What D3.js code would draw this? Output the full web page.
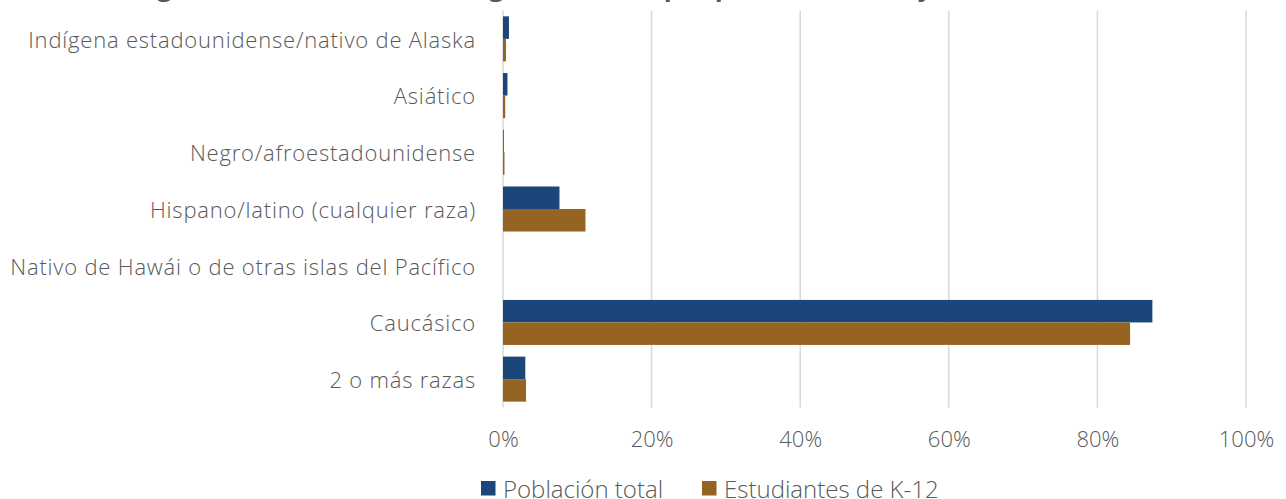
<!DOCTYPE html>
<html>
<head>
<meta charset="utf-8">
<script src="https://cdn.jsdelivr.net/npm/d3@7.9.0/dist/d3.min.js"></script>
<style>
  html, body { margin: 0; padding: 0; background: #fff; }
  svg { display: block; font-family: 'Open Sans', sans-serif; }
</style>
</head>
<body>
<div id="chart"></div>
<script>
// Data
const categories = [
  'Indígena estadounidense/nativo de Alaska',
  'Asiático',
  'Negro/afroestadounidense',
  'Hispano/latino (cualquier raza)',
  'Nativo de Hawái o de otras islas del Pacífico',
  'Caucásico',
  '2 o más razas'
];
const seriesNames = ['Población total', 'Estudiantes de K-12'];
const poblacionTotal = [0.008, 0.006, 0.001, 0.076, 0.0, 0.874, 0.030];
const estudiantesK12 = [0.004, 0.003, 0.002, 0.111, 0.0, 0.844, 0.031];
const xTicks = [0, 0.2, 0.4, 0.6, 0.8, 1.0];
const colors = ['#1b4679', '#956422'];
const title = 'Origen racial, distribución según el censo, por población total y estudiantes de K-12';

const width = 1286, height = 499;
const margin = { top: 10.5, right: 40, bottom: 91.5, left: 503 };
const textColor = '#595959';

const svg = d3.select('#chart').append('svg')
  .attr('width', width)
  .attr('height', height);

const x = d3.scaleLinear()
  .domain([0, 1])
  .range([margin.left, 1246]);

const y = d3.scaleBand()
  .domain(categories)
  .range([margin.top, height - margin.bottom]);

const ySub = d3.scaleBand()
  .domain(seriesNames)
  .range([0, y.bandwidth()])
  .paddingOuter(0.26);

// title (mostly cut off at the top of the picture)
svg.append('text')
  .attr('x', 655)
  .attr('y', -3.8)
  .attr('text-anchor', 'middle')
  .attr('font-size', '26px')
  .attr('font-weight', 700)
  .attr('fill', textColor)
  .text(title);

// gridlines
svg.append('g')
  .selectAll('line')
  .data(xTicks)
  .join('line')
  .attr('x1', d => x(d))
  .attr('x2', d => x(d))
  .attr('y1', margin.top)
  .attr('y2', height - margin.bottom)
  .attr('stroke', '#d9d9d9')
  .attr('stroke-width', 1.5);

// bars
const rows = categories.map((c, i) => ({ cat: c, vals: [poblacionTotal[i], estudiantesK12[i]] }));
svg.append('g')
  .selectAll('g')
  .data(rows)
  .join('g')
  .attr('transform', d => `translate(0,${y(d.cat)})`)
  .selectAll('rect')
  .data(d => d.vals.map((v, j) => ({ name: seriesNames[j], v, j })))
  .join('rect')
  .attr('x', x(0))
  .attr('y', d => ySub(d.name))
  .attr('width', d => x(d.v) - x(0))
  .attr('height', ySub.bandwidth())
  .attr('fill', d => colors[d.j]);

// category labels
const yAxis = svg.append('g')
  .attr('transform', `translate(${margin.left},0)`)
  .call(d3.axisLeft(y).tickSize(0).tickPadding(27));
yAxis.select('.domain').remove();
yAxis.selectAll('text')
  .attr('dy', '0.4em')
  .attr('font-family', "'Open Sans', sans-serif")
  .attr('font-weight', 300)
  .attr('font-size', '22px')
  .attr('letter-spacing', '0.8px')
  .attr('fill', textColor);

// x tick labels
const xAxis = svg.append('g')
  .attr('transform', `translate(0,${height - margin.bottom})`)
  .call(d3.axisBottom(x).tickValues(xTicks).tickFormat(d3.format('.0%')).tickSize(0).tickPadding(23.5));
xAxis.select('.domain').remove();
xAxis.selectAll('text')
  .attr('font-family', "'Open Sans', sans-serif")
  .attr('font-weight', 300)
  .attr('font-size', '22px')
  .attr('fill', textColor);

// legend
const legendX = [481, 702];
const legend = svg.append('g')
  .selectAll('g')
  .data(seriesNames)
  .join('g')
  .attr('transform', (d, i) => `translate(${legendX[i]},481)`);
legend.append('rect')
  .attr('width', 14.5)
  .attr('height', 14.5)
  .attr('fill', (d, i) => colors[i]);
legend.append('text')
  .attr('x', 22)
  .attr('y', 16.5)
  .attr('font-weight', 300)
  .attr('font-size', '24px')
  .attr('fill', textColor)
  .text(d => d);
</script>
</body>
</html>
